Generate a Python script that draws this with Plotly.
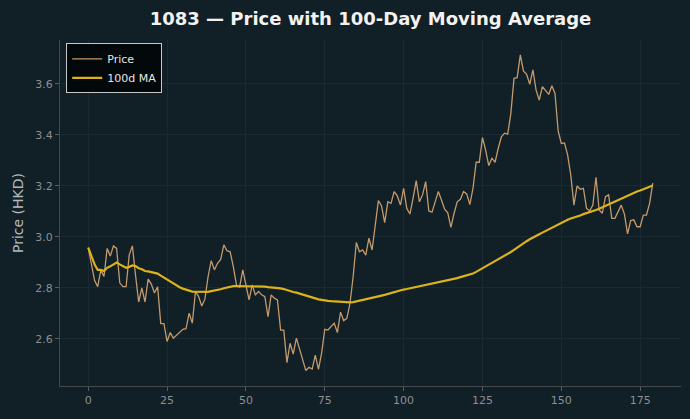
import plotly.graph_objects as go
import pandas as pd

# Daily closing price (HKD), days 0..179
price = [
    2.958, 2.890, 2.830, 2.805, 2.870, 2.845, 2.955, 2.925, 2.965, 2.955,
    2.820, 2.805, 2.805, 2.930, 2.965, 2.850, 2.745, 2.800, 2.745, 2.835,
    2.815, 2.780, 2.805, 2.660, 2.660, 2.590, 2.625, 2.603, 2.616, 2.629,
    2.638, 2.640, 2.701, 2.662, 2.786, 2.766, 2.729, 2.756, 2.844, 2.907,
    2.871, 2.897, 2.912, 2.969, 2.946, 2.942, 2.884, 2.812, 2.803, 2.871,
    2.808, 2.753, 2.812, 2.773, 2.786, 2.773, 2.766, 2.687, 2.773, 2.760,
    2.753, 2.635, 2.635, 2.507, 2.583, 2.541, 2.603, 2.557, 2.518, 2.476,
    2.489, 2.482, 2.537, 2.481, 2.544, 2.638, 2.635, 2.648, 2.662, 2.625,
    2.705, 2.672, 2.681, 2.740, 2.844, 2.978, 2.942, 2.949, 2.929, 2.995,
    2.949, 3.045, 3.143, 3.122, 3.056, 3.138, 3.132, 3.178, 3.161, 3.125,
    3.191, 3.112, 3.090, 3.152, 3.221, 3.138, 3.165, 3.217, 3.102, 3.097,
    3.138, 3.178, 3.145, 3.109, 3.095, 3.038, 3.093, 3.138, 3.148, 3.178,
    3.169, 3.127, 3.191, 3.293, 3.293, 3.390, 3.341, 3.280, 3.309, 3.293,
    3.348, 3.393, 3.407, 3.403, 3.485, 3.622, 3.625, 3.714, 3.651, 3.638,
    3.599, 3.655, 3.576, 3.537, 3.590, 3.576, 3.559, 3.593, 3.563, 3.416,
    3.367, 3.369, 3.322, 3.243, 3.125, 3.200, 3.187, 3.191, 3.112, 3.103,
    3.125, 3.234, 3.106, 3.093, 3.158, 3.165, 3.073, 3.073, 3.099, 3.125,
    3.090, 3.012, 3.064, 3.067, 3.040, 3.040, 3.086, 3.086, 3.132, 3.211,
]
days = list(range(len(price)))
ma_window = 100
ma100 = pd.Series(price).rolling(ma_window, min_periods=1).mean().tolist()

x_ticks = [0, 25, 50, 75, 100, 125, 150, 175]
y_ticks = [2.6, 2.8, 3.0, 3.2, 3.4, 3.6]

BG = "#111f26"
GRID = "#1b2a32"
FONT = "DejaVu Sans"

fig = go.Figure()
fig.add_trace(go.Scatter(x=days, y=price, mode="lines", name="Price",
                         line=dict(color="#c49a6c", width=1.3)))
fig.add_trace(go.Scatter(x=days, y=ma100, mode="lines", name="100d MA",
                         line=dict(color="#dcb31a", width=2.2)))

fig.update_layout(
    width=690, height=419,
    paper_bgcolor=BG, plot_bgcolor=BG,
    margin=dict(l=60, r=9, t=40, b=33),
    font=dict(family=FONT, color="#8c9296", size=11),
    title=dict(text="<b>1083 — Price with 100-Day Moving Average</b>",
               x=(60 + 681) / 2 / 690, xanchor="center", y=0.955, yanchor="middle",
               font=dict(family=FONT, size=18, color="#f2f2f2")),
    legend=dict(x=0.01, y=0.99, xanchor="left", yanchor="top",
                bgcolor="rgba(2,6,8,0.92)", bordercolor="#c8c8c8", borderwidth=1,
                font=dict(family=FONT, size=11, color="#e6e6e6"),
                tracegroupgap=0, itemwidth=30),
    showlegend=True,
)
fig.update_xaxes(range=[-8.95, 187.95], tickvals=x_ticks, ticks="outside", ticklen=4,
                 tickcolor="#555c60", showline=True, linecolor="#45494c", linewidth=1,
                 showgrid=True, gridcolor=GRID, gridwidth=1, zeroline=False,
                 tickfont=dict(size=11, color="#8a9094"))
fig.update_yaxes(range=[2.4155, 3.7725], tickvals=y_ticks, tickformat=".1f",
                 ticks="outside", ticklen=4, tickcolor="#555c60",
                 showline=True, linecolor="#45494c", linewidth=1,
                 showgrid=True, gridcolor=GRID, gridwidth=1, zeroline=False,
                 tickfont=dict(size=11, color="#8a9094"),
                 title=dict(text="Price (HKD)", standoff=8,
                            font=dict(size=14, color="#b4b8bb")))

fig.write_html("out.html")
